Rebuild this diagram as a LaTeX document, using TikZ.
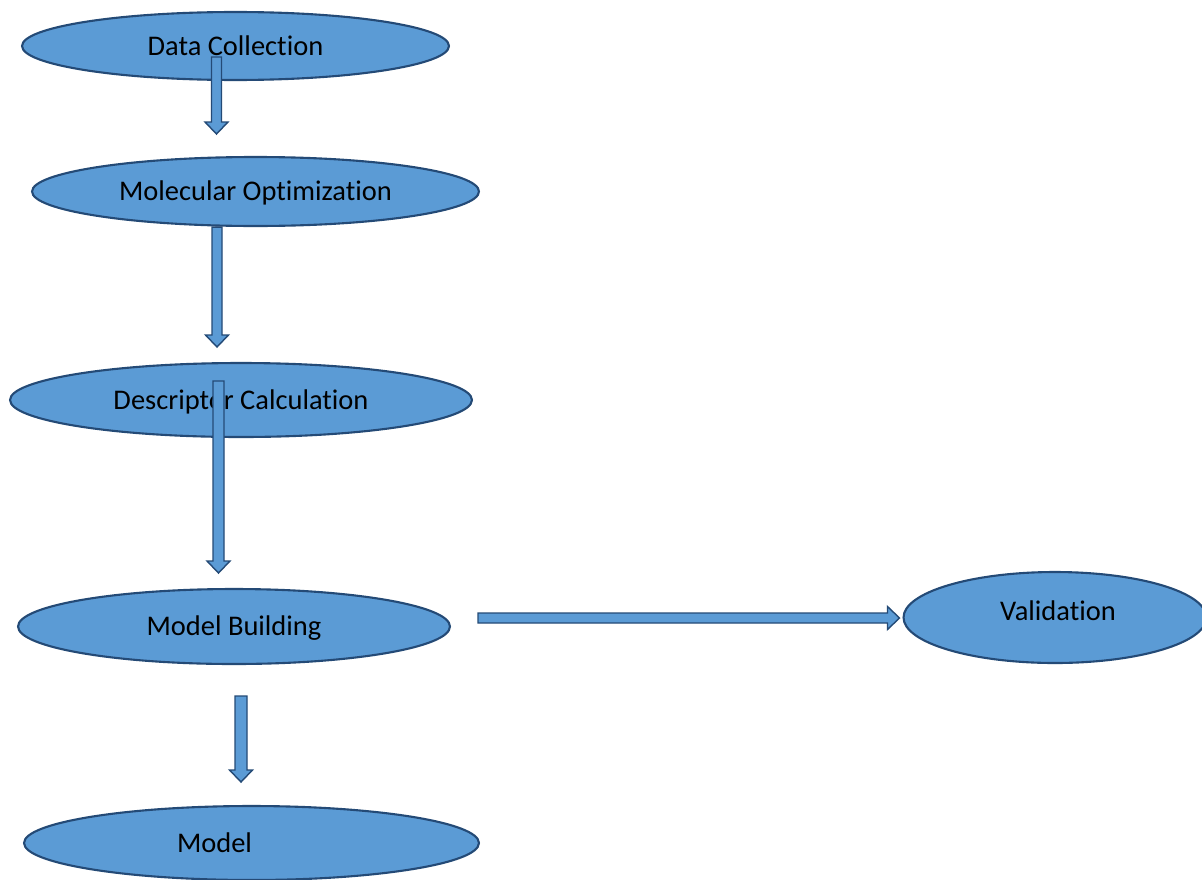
\documentclass[tikz,border=0pt]{standalone}
\usepackage{fontspec}
\setmainfont{Carlito}[Ligatures=CommonOff]
\usepackage{tikz}
\usetikzlibrary{shapes.geometric,calc}

\definecolor{stagefill}{RGB}{91,155,213}
\definecolor{stageline}{RGB}{36,74,118}

\tikzset{
  stage/.style={ellipse,draw=stageline,fill=stagefill,line width=1.2pt,inner sep=0pt,
    text depth=0.5pt,font=\fontsize{16.2}{19}\selectfont},
  arrowbody/.style={draw=stageline,fill=stagefill,line width=0.8pt,line join=miter}
}

% block arrow from #1 to the tip #2, shaft half width #3
\newcommand{\blockarrow}[3]{%
  \path #1 coordinate (ba-s) #2 coordinate (ba-t);
  \coordinate (ba-b) at ($(ba-t)!0.24cm!(ba-s)$);
  \draw[arrowbody] ($(ba-s)!#3!90:(ba-t)$) -- ($(ba-b)!#3!90:(ba-t)$)
    -- ($(ba-b)!0.23cm!90:(ba-t)$) -- (ba-t) -- ($(ba-b)!0.23cm!-90:(ba-t)$)
    -- ($(ba-b)!#3!-90:(ba-t)$) -- ($(ba-s)!#3!-90:(ba-t)$) -- cycle;
}

\begin{document}
\begin{tikzpicture}[x=0.02cm,y=-0.02cm]
\useasboundingbox (0,0) rectangle (1202,879);
\fill[white] (0,0) rectangle (1202,879);
% stages
\node[stage,minimum width=8.54cm,minimum height=1.36cm] (collect) at (235.5,46) {Data Collection};
\node[stage,minimum width=8.94cm,minimum height=1.38cm] (optim) at (255.5,191.5) {Molecular Optimization};
\node[stage,minimum width=9.24cm,minimum height=1.48cm] (descr) at (241,400) {Descriptor Calculation};
\node[stage,minimum width=8.64cm,minimum height=1.50cm] (build) at (234,626.5) {Model Building};
\node[stage,minimum width=6.06cm,minimum height=1.82cm] (valid) at (1055,617.5) {};
\node[stage,minimum width=9.10cm,minimum height=1.48cm] (model) at (251.5,843) {};
\node[font=\fontsize{16.2}{19}\selectfont,text depth=0.5pt] (validtext) at ($(valid.center)+(3,-6)$) {Validation};
\node[font=\fontsize{16.2}{19}\selectfont,text depth=0.5pt] (modeltext) at ($(model.center)+(-37,0)$) {Model};
% arrows
\blockarrow{($(collect.center)+(-19,11)$)}{($(optim.center)+(-39,-57.5)$)}{0.1cm}
\blockarrow{($(optim.south)+(-38.5,0)$)}{($(descr.center)+(-24,-53)$)}{0.1cm}
\blockarrow{($(descr.center)+(-22.5,-19)$)}{($(build.center)+(-15.5,-53.5)$)}{0.11cm}
\blockarrow{($(build.center)+(7,69.5)$)}{($(model.center)+(-10.5,-61)$)}{0.12cm}
\blockarrow{($(build.center)+(244,-8.5)$)}{($(valid.west)+(-3,0.5)$)}{0.1cm}
\end{tikzpicture}
\end{document}
